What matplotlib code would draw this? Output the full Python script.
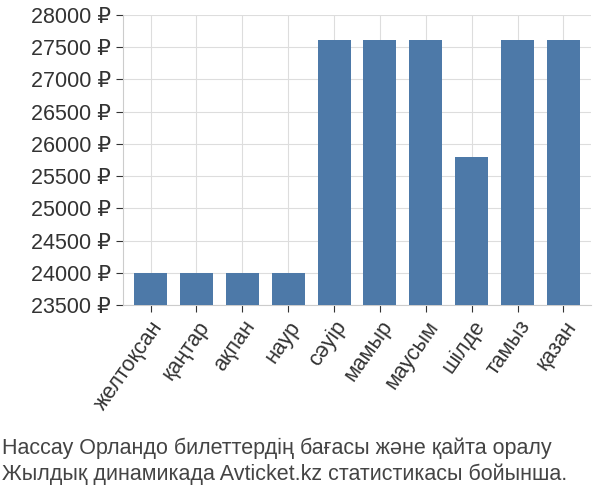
import matplotlib
matplotlib.use("Agg")
import matplotlib.pyplot as plt
from matplotlib.ticker import FuncFormatter

plt.rcParams['font.family'] = ['Liberation Sans', 'DejaVu Sans']

months = ["желтоқсан", "қаңтар", "ақпан", "наур", "сәуір", "мамыр", "маусым", "шілде", "тамыз", "қазан"]
prices = [23990, 23990, 23990, 23990, 27610, 27610, 27610, 25800, 27610, 27610]

fig = plt.figure(figsize=(6, 5), dpi=100)
ax = fig.add_axes([0.205, 0.39, 0.78, 0.58])
ax.bar(range(len(months)), prices, width=0.72, color="#4d79a8", zorder=3)
ax.set_ylim(23500, 28000)
ax.set_xlim(-0.6, len(months) - 0.4)
ax.set_yticks(range(23500, 28001, 500))
ax.yaxis.set_major_formatter(FuncFormatter(lambda v, p: f"{int(v)} ₽"))
ax.set_xticks(range(len(months)))
ax.set_xticklabels(months, rotation=55, ha="right", rotation_mode="anchor")
ax.tick_params(labelsize=15.5, colors="#333333", length=5)
ax.grid(True, color="#dddddd", zorder=0)
for s in ax.spines.values():
    s.set_visible(False)
ax.spines['left'].set_visible(True)
ax.spines['left'].set_color("#cccccc")
ax.spines['bottom'].set_visible(True)
ax.spines['bottom'].set_color("#cccccc")
fig.text(0.003, 0.077, "Нассау Орландо билеттердің бағасы және қайта оралу\nЖылдық динамикада Avticket.kz статистикасы бойынша.",
         fontsize=15.5, color="#444444", va="center", linespacing=1.3)
fig.savefig("out.png")
